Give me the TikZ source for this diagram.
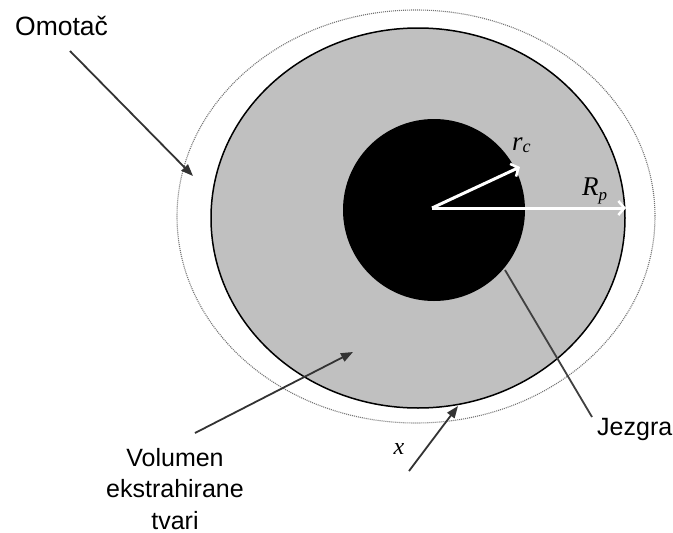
\documentclass[tikz,border=0pt]{standalone}
\usepackage{fontspec}
\setmainfont{Liberation Sans}
\newfontfamily\lblit{Liberation Serif Italic}
\usetikzlibrary{arrows.meta}
\definecolor{shellgray}{RGB}{192,192,192}
\begin{document}
\begin{tikzpicture}[x=1pt,y=-1pt,
  txt/.style={font=\fontsize{25}{31.5}\selectfont, inner sep=0pt},
  pointer/.style={draw=black!80, line width=1.8pt, -{Triangle[length=12pt,width=9pt]}},
  leader/.style={draw=black!75, line width=1.8pt},
  radiusarrow/.style={draw=white, line width=3pt, -{Straight Barb[length=6pt,width=14pt,line width=2.5pt]}}
]
\useasboundingbox (0,0) rectangle (673,533);
\fill[white] (0,0) rectangle (673,533);
% outer dotted shell
\draw[black!55, line width=1.1pt, dash pattern=on 1pt off 1pt] (416,216.5) ellipse [x radius=239, y radius=206.5];
% grey volume
\filldraw[fill=shellgray, draw=black, line width=1.5pt] (418,218) ellipse [x radius=207, y radius=190];
% black core
\fill[black] (434,210) circle [radius=91];

% radii
\coordinate (c) at (432,208);
\coordinate (rcTip) at (520,167);
\coordinate (rpTip) at (626,208);
\draw[radiusarrow] (c) -- (rcTip);
\draw[radiusarrow] (c) -- (rpTip);
\node[anchor=base west, inner sep=0pt] (rc) at (512,150) {{\lblit\fontsize{27}{27}\selectfont r}\raisebox{-2pt}{\lblit\fontsize{18}{18}\selectfont c}};
\node[anchor=base west, inner sep=0pt] (rp) at (582,195) {{\lblit\fontsize{27}{27}\selectfont R}\raisebox{-5pt}{\lblit\fontsize{17}{17}\selectfont p}};

% labels
\node[txt, anchor=base west, font=\fontsize{26.5}{31.5}\selectfont] (omotac) at (15,35) {Omotač};
\coordinate (omStart) at (70,51);
\coordinate (omTip) at (193,176);
\draw[pointer] (omStart) -- (omTip);

\node[txt, align=center, anchor=base] (volumen) at (175,529) {Volumen\\ekstrahirane\\tvari};
\coordinate (volStart) at (195,433);
\coordinate (volTip) at (353,352);
\draw[pointer] (volStart) -- (volTip);

\node[txt, anchor=base west] (jezgra) at (597,435) {Jezgra};
\coordinate (jzStart) at (505,270);
\coordinate (jzEnd) at (592,417);
\draw[leader] (jzStart) -- (jzEnd);

\node[anchor=base, inner sep=0pt, font=\lblit\fontsize{24}{24}\selectfont] (xlab) at (399,454) {x};
\coordinate (xStart) at (409,471);
\coordinate (xTip) at (458,406);
\draw[pointer] (xStart) -- (xTip);
\end{tikzpicture}
\end{document}
